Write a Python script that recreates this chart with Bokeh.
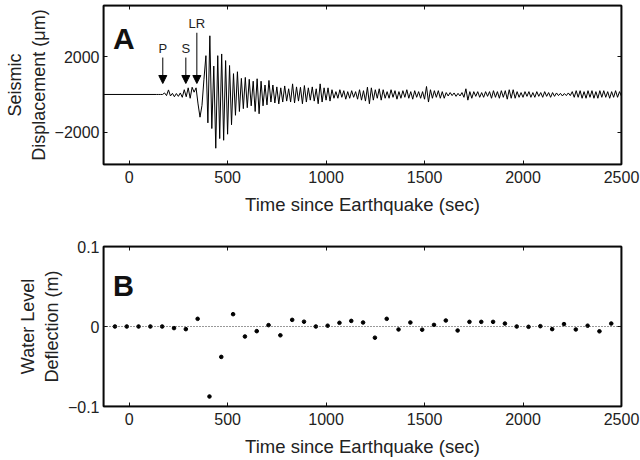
from bokeh.plotting import figure
from bokeh.layouts import column
from bokeh.models import LinearAxis, FixedTicker, Arrow, NormalHead, Label, Span, BoxAnnotation
from bokeh.embed import file_html
from bokeh.resources import INLINE

# ---------------- data ----------------
# Seismogram (panel A): sample times (s) and displacement (µm)
seis_lead_t = [-130, 140]
seis_lead_v = [0, 0]
seis_t0 = 150
seis_dt = 10
seis_v = [
    0, 0, 0, 80, -60, 240, -80, 60, -120, 50,            # 150-240
    -100, 80, -150, 250, -120, 350, -200, 380, 120, 350,  # 250-340
    -500, -1200, -580, 800, 2050, -1500, 3100, -1800, 1500, -2840,  # 350-440
    2050, -2330, 2140, -2420, 1790, -2100, 1530, -1600, 1100, -1100,  # 450-540
    1200, -900, 850, -750, 900, -700, 800, -600, 700, -900,  # 550-640
    830, -1020, 700, -600, 500, -550, 740, -400, 500, -450,  # 650-740
    400, -500, 350, -400, 450, -350, 300, -400, 560, -450,  # 750-840
    400, -350, 380, -490, 470, -400, 350, -300, 400, -350,  # 850-940
    300, -490, 560, -400, 350, -300, 350, -350, 250, -200,  # 950-1040
    150, -200, 250, -150, 200, -250, 150, -200, 200, -150,  # 1050-1140
    150, -250, 250, -300, 200, -350, 385, -490, 350, -300,  # 1150-1240
    250, -200, 300, -300, 250, -200, 150, -200, 250, -150,  # 1250-1340
    200, -250, 150, -200, 200, -150, 250, -200, 150, -250,  # 1350-1440
    200, -150, 150, -200, 150, -250, 420, -400, 250, -200,  # 1450-1540
    200, -150, 200, -200, 150, -200, 100, -80, 100, -60,  # 1550-1640
    80, -100, 60, -80, 100, -150, 300, -300, 150, -200,  # 1650-1740
    150, -100, 150, -150, 100, -150, 150, -100, 150, -200,  # 1750-1840
    200, -150, 150, -200, 200, -150, 200, -250, 250, -200,  # 1850-1940
    250, -200, 150, -150, 100, -150, 150, -100, 150, -150,  # 1950-2040
    100, -150, 150, -100, 100, -150, 150, -100, 100, -150,  # 2050-2140
    100, -100, 80, -60, 60, -80, 50, -60, 80, -60,  # 2150-2240
    150, -150, 200, -150, 200, -200, 150, -200, 200, -150,  # 2250-2340
    200, -200, 150, -200, 200, -150, 200, -150, 150, -200,  # 2350-2440
    150, -150, 200, -150, 150, -100,  # 2450-2500
]
seis_t = seis_lead_t + [seis_t0 + seis_dt * i for i in range(len(seis_v))]
seis_y = seis_lead_v + seis_v

# Phase arrivals (panel A)
phase_names = ["P", "S", "LR"]
phase_times = [171, 288, 344]
phase_top = [1950, 1950, 3260]
phase_tip = [580, 580, 580]
phase_label_y = [2420, 2420, 3740]

# Water level deflection (panel B): times (s) and deflection (m)
wl_t = [-72, -12, 48, 108, 168, 228, 288, 348, 408, 468,
        528, 588, 648, 708, 768, 828, 888, 948, 1008, 1068,
        1128, 1188, 1248, 1308, 1368, 1428, 1488, 1548, 1608, 1668,
        1728, 1788, 1848, 1908, 1968, 2028, 2088, 2148, 2208, 2268,
        2328, 2388, 2448]
wl_v = [0.0, 0.0, 0.0, 0.0, 0.0, -0.002, -0.0033, 0.0096, -0.0875, -0.038,
        0.0154, -0.0125, -0.0058, 0.0017, -0.011, 0.0083, 0.006, 0.0, 0.001, 0.0046,
        0.007, 0.005, -0.014, 0.0096, -0.0037, 0.005, -0.004, 0.002, 0.0075, -0.005,
        0.0058, 0.0058, 0.0058, 0.0037, 0.0, -0.0004, 0.0004, -0.0033, 0.003, -0.0037,
        0.001, -0.006, 0.0037]

x_ticks = [0, 500, 1000, 1500, 2000, 2500]
ya_ticks = [-2000, 2000]
yb_ticks = [-0.1, 0, 0.1]

FONT = "Liberation Sans"
TXT = "#222222"
LINE = "#111111"


def style(p, yticks, overrides):
    p.grid.visible = False
    p.outline_line_color = "black"
    p.outline_line_width = 1.5
    for ax in p.xaxis + p.yaxis:
        ax.major_tick_in = 4
        ax.major_tick_out = 0
        ax.minor_tick_line_color = None
        ax.axis_line_color = LINE
        ax.axis_line_width = 1.5
        ax.major_tick_line_color = LINE
        ax.major_tick_line_width = 1
        ax.major_label_text_font = FONT
        ax.major_label_text_font_size = "16px"
        ax.major_label_text_color = TXT
        ax.axis_label_text_font = FONT
        ax.axis_label_text_font_style = "normal"
        ax.axis_label_text_color = TXT
    p.xaxis.axis_label_text_font_size = "18.5px"
    p.yaxis.axis_label_text_font_size = "18px"
    p.xaxis.ticker = FixedTicker(ticks=x_ticks)
    p.yaxis.ticker = FixedTicker(ticks=yticks)
    p.yaxis.major_label_overrides = overrides
    p.xaxis.major_label_standoff = 6
    p.yaxis.major_label_standoff = 4
    p.xaxis.axis_label_standoff = 8
    p.yaxis.axis_label_standoff = 3
    # ticks on top and right, no labels
    top = LinearAxis(ticker=FixedTicker(ticks=x_ticks), major_tick_in=4, major_tick_out=0,
                     minor_tick_line_color=None, axis_line_color=LINE, axis_line_width=1.5,
                     major_tick_line_color=LINE,
                     major_label_overrides={t: "" for t in x_ticks},
                     major_label_standoff=0, major_label_text_font_size="1px")
    right = LinearAxis(ticker=FixedTicker(ticks=yticks), major_tick_in=4, major_tick_out=0,
                       minor_tick_line_color=None, axis_line_color=LINE, axis_line_width=1.5,
                       major_tick_line_color=LINE,
                       major_label_overrides={t: "" for t in yticks},
                       major_label_standoff=0, major_label_text_font_size="1px")
    p.add_layout(top, "above")
    p.add_layout(right, "right")
    # explicit frame box (whole plot area)
    p.add_layout(BoxAnnotation(fill_alpha=0, fill_color=None, line_color="black",
                               line_width=1.5, line_alpha=1.0, level="overlay"))


# ---------------- panel A ----------------
pA = figure(width=640, height=226, x_range=(-130, 2500), y_range=(-3700, 4700),
            output_backend="svg", toolbar_location=None,
            min_border_left=103, min_border_right=19, min_border_top=5, min_border_bottom=62,
            x_axis_label="Time since Earthquake (sec)",
            y_axis_label="Seismic\nDisplacement (\u03bcm)")
style(pA, ya_ticks, {2000: "2000", -2000: "\u22122000"})
pA.line(seis_t, seis_y, line_color="black", line_width=1)

for name, t, top_v, tip_v, ly in zip(phase_names, phase_times, phase_top, phase_tip, phase_label_y):
    pA.add_layout(Arrow(end=NormalHead(size=8, fill_color="black", line_color="black", line_width=1),
                        x_start=t, y_start=top_v, x_end=t, y_end=tip_v,
                        line_color="black", line_width=1))
    pA.add_layout(Label(x=t, y=ly, text=name, text_align="center", text_baseline="middle",
                        text_font=FONT, text_font_size="13px", text_color=TXT))

pA.add_layout(Label(x=-82, y=2950, text="A", text_font=FONT, text_font_size="30px",
                    text_font_style="bold", text_color="#111111", text_baseline="alphabetic"))

# ---------------- panel B ----------------
pB = figure(width=640, height=234, x_range=(-130, 2500), y_range=(-0.1, 0.1),
            output_backend="svg", toolbar_location=None,
            min_border_left=103, min_border_right=19, min_border_top=20, min_border_bottom=54,
            x_axis_label="Time since Earthquake (sec)",
            y_axis_label="Water Level\nDeflection (m)")
style(pB, yb_ticks, {0.1: "0.1", 0: "0", -0.1: "\u22120.1"})
pB.add_layout(Span(location=0, dimension="width", line_color="#333333", line_width=1,
                   line_dash="1 2"))
pB.scatter(wl_t, wl_v, size=3.6, color="black")
pB.add_layout(Label(x=-82, y=0.051, text="B", text_font=FONT, text_font_size="29px",
                    text_font_style="bold", text_color="#111111", text_baseline="alphabetic"))

layout = column(pA, pB, spacing=0)
open("out.html", "w").write(file_html(layout, INLINE))
